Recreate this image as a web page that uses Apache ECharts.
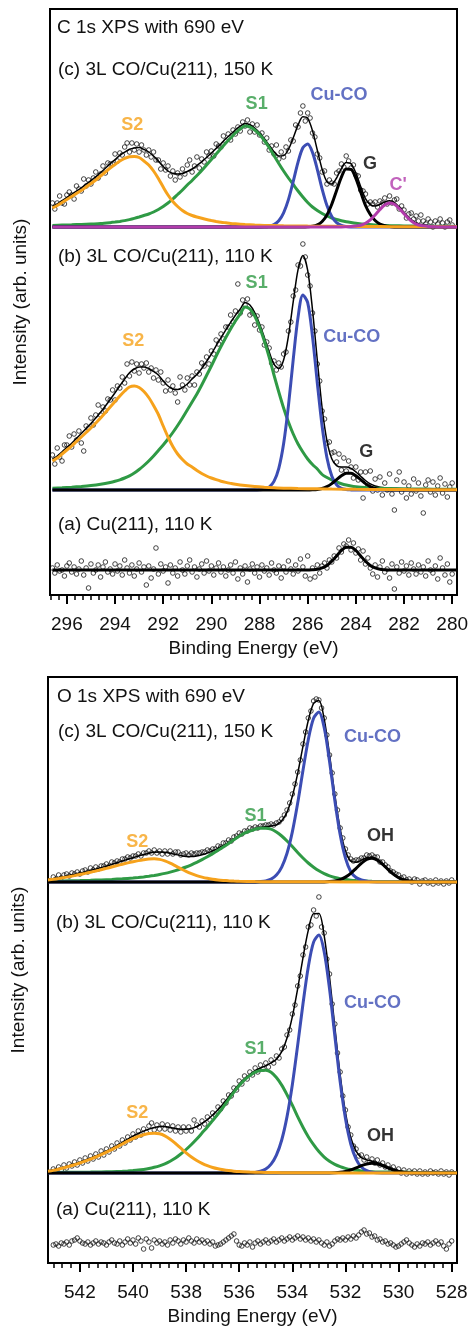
<!DOCTYPE html>
<html>
<head>
<meta charset="utf-8">
<title>C 1s / O 1s XPS, CO on Cu(211)</title>
<script src="https://cdn.jsdelivr.net/npm/echarts@6.0.0/dist/echarts.min.js"></script>
<style>
  html, body { margin: 0; padding: 0; background: #fff; }
  #chart { width: 472px; height: 1330px; }
</style>
</head>
<body>
<div id="chart"></div>
<script>
// ===================== C 1s panel =====================
var cTicks = [280, 282, 284, 286, 288, 290, 292, 294, 296];

// energies of the measured points (eV)
var cPointE = [
  296.6,296.5,296.4,296.3,296.2,296.1,296,295.9,295.8,295.7,
  295.6,295.5,295.4,295.3,295.2,295.1,295,294.9,294.8,294.7,
  294.6,294.5,294.4,294.3,294.2,294.1,294,293.9,293.8,293.7,
  293.6,293.5,293.4,293.3,293.2,293.1,293,292.9,292.8,292.7,
  292.6,292.5,292.4,292.3,292.2,292.1,292,291.9,291.8,291.7,
  291.6,291.5,291.4,291.3,291.2,291.1,291,290.9,290.8,290.7,
  290.6,290.5,290.4,290.3,290.2,290.1,290,289.9,289.8,289.7,
  289.6,289.5,289.4,289.3,289.2,289.1,289,288.9,288.8,288.7,
  288.6,288.5,288.4,288.3,288.2,288.1,288,287.9,287.8,287.7,
  287.6,287.5,287.4,287.3,287.2,287.1,287,286.9,286.8,286.7,
  286.6,286.5,286.4,286.3,286.2,286.1,286,285.9,285.8,285.7,
  285.6,285.5,285.4,285.3,285.2,285.1,285,284.9,284.8,284.7,
  284.6,284.5,284.4,284.3,284.2,284.1,284,283.9,283.8,283.7,
  283.6,283.5,283.4,283.3,283.2,283.1,283,282.9,282.8,282.7,
  282.6,282.5,282.4,282.3,282.2,282.1,282,281.9,281.8,281.7,
  281.6,281.5,281.4,281.3,281.2,281.1,281,280.9,280.8,280.7,
  280.6,280.5,280.4,280.3,280.2,280.1,280
];
// (c) 3L CO, 150 K
var cPoints150 = [
  24,18,24,31,24,23,32,35,32,28,
  41,38,36,48,41,47,43,49,55,49,
  53,61,54,64,63,63,73,66,74,72,
  80,84,75,84,77,83,75,82,77,72,
  77,70,75,67,67,58,64,57,61,51,
  56,47,54,50,58,53,62,67,55,61,
  70,59,68,65,75,71,76,71,83,81,
  80,91,86,93,87,97,93,100,96,105,
  101,107,95,103,95,102,92,94,85,89,
  77,81,73,82,68,75,70,80,76,87,
  86,102,100,114,121,106,114,109,94,90,
  73,69,55,56,43,47,44,43,54,56,
  63,60,71,66,59,62,52,51,37,36,
  33,23,25,23,25,20,26,24,29,23,
  31,24,27,28,18,21,17,9,13,14,
  8,11,6,12,6,3,8,5,0,6,
  3,8,4,0,5,7,2
];
// (b) 3L CO, 110 K
var cPoints110 = [
  35,26,42,33,29,45,45,54,43,56,
  50,59,47,39,64,62,72,65,75,85,
  75,83,79,91,90,100,90,104,102,113,
  107,126,114,128,119,126,117,126,122,127,
  118,122,112,120,110,118,107,99,110,100,
  104,97,88,113,105,100,112,105,114,105,
  118,116,127,124,133,126,139,136,150,146,
  156,151,163,163,175,168,179,206,177,190,
  185,191,175,177,165,174,160,163,145,148,
  142,127,129,120,127,123,136,138,159,168,
  194,200,225,224,246,233,215,204,177,159,
  126,109,79,71,47,48,37,38,28,36,
  20,32,19,29,23,12,23,10,18,-8,
  18,4,19,-1,11,0,13,-5,7,0,
  16,-4,-20,10,18,-2,8,-8,4,-4,
  11,-1,7,-6,-23,5,10,-2,8,-5,
  4,12,-3,6,-7,3,7
];
// (a) clean Cu(211), 110 K
var cPointsClean = [
  2,-3,5,-1,0,-6,4,7,-2,3,
  -4,1,9,-5,2,-18,6,-3,0,5,
  -7,3,8,-2,1,-4,6,-1,4,-5,
  10,2,-3,5,-6,1,7,-2,3,-15,
  4,-8,1,22,-4,6,-1,3,-13,5,
  -3,2,-6,8,0,-4,4,10,-2,3,
  -7,1,6,-3,9,-1,4,-5,2,7,
  -2,3,-6,0,5,-3,8,-9,2,-4,
  4,-12,1,6,-3,3,-7,5,-1,2,
  -5,7,0,-3,4,-8,3,-2,9,1,
  -4,5,-1,11,3,-6,14,-9,2,-7,
  5,-3,4,7,2,10,8,14,12,22,
  18,26,24,30,20,27,17,21,10,19,
  6,12,2,-4,5,-7,3,9,-2,1,
  -8,6,-19,3,-3,8,-1,4,-5,7,
  1,-4,5,-2,3,-6,9,0,-3,4,
  -9,12,2,-5,6,-12,-4
];

// fit envelopes on a 0.2 eV grid
var cFitE = [
  296.6,296.4,296.2,296,295.8,295.6,295.4,295.2,295,294.8,
  294.6,294.4,294.2,294,293.8,293.6,293.4,293.2,293,292.8,
  292.6,292.4,292.2,292,291.8,291.6,291.4,291.2,291,290.8,
  290.6,290.4,290.2,290,289.8,289.6,289.4,289.2,289,288.8,
  288.6,288.4,288.2,288,287.8,287.6,287.4,287.2,287,286.8,
  286.6,286.4,286.2,286,285.8,285.6,285.4,285.2,285,284.8,
  284.6,284.4,284.2,284,283.8,283.6,283.4,283.2,283,282.8,
  282.6,282.4,282.2,282,281.8,281.6,281.4,281.2,281,280.8,
  280.6,280.4,280.2,280,279.8
];
var cEnv150 = [
  20.6,23.2,26.4,29.5,32.7,35.9,39.1,42.8,46.5,50.2,
  54.4,58.8,63.3,67.4,71.6,74.9,77.7,79.1,79.5,77.5,
  75,71,66,60.5,56,53.5,53,53.5,55.5,58,
  61.5,65.2,69.5,74,78.6,83.3,88.2,92.6,97.2,100.8,
  103.5,102.2,99,94.3,88.3,81.8,75.3,71,71.4,77.5,
  89.2,101.9,110.2,108.6,96.2,76.8,57.7,45.2,42.9,49,
  58.3,64.6,63.2,54,40.4,28.4,22.4,21,22.6,25.1,
  26.2,24.4,20,14.6,9.4,5.6,3.1,2.3,1.6,1.3,
  1,0.9,0.9,0.8,0.8
];
var cEnv110 = [
  30.8,34,38.2,42.5,46.8,51.6,56.5,61.4,66.4,72,
  77.7,84,90.5,97.2,104.2,111,117.2,121,123,123,
  121.5,118.5,115,109,104,101,100.5,102.5,106,111,
  115.5,121.5,128.5,136,144.3,152.3,160.1,167.6,174.7,181,
  187.4,184.9,177.4,166.2,152.5,138.3,125.8,121.6,130,153.9,
  188.3,220.4,234.4,219.7,180.2,129.8,81.9,49.2,31.3,24.4,
  23,23,21.6,18.2,13.8,9.5,6.1,4,2.8,2.2,
  1.9,1.75,1.6,1.5,1.4,1.35,1.3,1.25,1.2,1.15,
  1.1,1.05,1,0.95,0.9
];

// fit components [eV, intensity]
var cS2_150 = [[296.6,19],[296.4,21.5],[296.2,24.5],[296,27.5],[295.8,30.5],[295.6,33.5],[295.4,36.5],[295.2,40],[295,43.5],[294.8,47],[294.6,51],[294.4,55],[294.2,59],[294,62.5],[293.8,66],[293.6,68.5],[293.4,70.3],[293.2,70.5],[293,69.5],[292.8,66],[292.6,62],[292.4,56],[292.2,48.5],[292,40],[291.8,32],[291.6,25.5],[291.4,20.5],[291.2,16.5],[291,13.5],[290.8,11.5],[290.6,10],[290.4,8.7],[290.2,7.5],[290,6.5],[289.8,5.6],[289.6,4.8],[289.4,4.2],[289.2,3.6],[289,3.2],[288.6,2.5],[288.2,2],[287.8,1.6],[287.4,1.4],[287,1.2],[286,0.9],[285,0.7],[284,0.5],[283,0.4],[282,0.3],[281,0.2],[279.8,0.2]];
var cS1_150 = [[296.6,1.6],[296.2,1.9],[295.8,2.2],[295.4,2.6],[295,3],[294.6,3.4],[294.2,4.3],[294,4.9],[293.8,5.6],[293.6,6.4],[293.4,7.4],[293.2,8.6],[293,10],[292.8,11.5],[292.6,13],[292.4,15],[292.2,17.5],[292,20.5],[291.8,24],[291.6,28],[291.4,32.5],[291.2,37],[291,42],[290.8,46.5],[290.6,51.5],[290.4,56.5],[290.2,62],[290,67.5],[289.8,73],[289.6,78.5],[289.4,84],[289.2,89],[289,94],[288.8,98],[288.6,101],[288.4,100],[288.2,97],[288,92.5],[287.8,86.5],[287.6,79.5],[287.4,71.5],[287.2,63.5],[287,56],[286.8,49],[286.6,42.5],[286.4,36],[286.2,30],[286,24.5],[285.8,20],[285.6,16.5],[285.4,13.5],[285.2,11],[285,9],[284.8,7.5],[284.6,6.3],[284.4,5.3],[284.2,4.5],[284,3.8],[283.6,2.7],[283.2,2],[282.8,1.5],[282.4,1.3],[282,1.1],[281.4,0.9],[280.8,0.8],[280.2,0.7],[279.8,0.6]];
var cCuCO_150 = [[296.6,0],[288.2,0],[287.8,0.2],[287.6,0.8],[287.4,2.4],[287.2,6.2],[287,14.2],[286.8,27.4],[286.6,45.6],[286.4,64.9],[286.2,79.2],[286,83],[285.8,74.6],[285.6,57.4],[285.4,37.9],[285.2,21.4],[285,10.4],[284.8,4.3],[284.6,1.5],[284.4,0.5],[284.2,0.1],[283.8,0],[279.8,0]];
var cG_150 = [[296.6,0],[286.2,0],[286,0.2],[285.8,0.7],[285.6,2.1],[285.4,5.5],[285.2,12.1],[285,22.8],[284.8,36.5],[284.6,49.9],[284.4,58],[284.2,57.6],[284,48.7],[283.8,35],[283.6,21.5],[283.4,12.5],[283.2,6.5],[283,3],[282.8,1.2],[282.6,0.4],[282.4,0.1],[282.2,0],[279.8,0]];
var cCp_150 = [[296.6,0],[284.6,0],[284.4,0.2],[284.2,0.5],[284,1],[283.8,1.7],[283.6,3.7],[283.4,7.2],[283.2,12.1],[283,17.5],[282.8,22],[282.6,24],[282.4,22.7],[282.2,18.5],[282,13.2],[281.8,8.1],[281.6,4.3],[281.4,2],[281.2,1.2],[281,0.6],[280.8,0.3],[280.6,0.1],[280.4,0],[279.8,0]];

var cS2_110 = [[296.6,29],[296.4,32],[296.2,36],[296,40],[295.8,44],[295.6,48.5],[295.4,53],[295.2,57.5],[295,62],[294.8,67],[294.6,72],[294.4,77.5],[294.2,83],[294,88.5],[293.8,94],[293.6,99],[293.4,103],[293.2,104],[293,102.5],[292.8,98.5],[292.6,92.5],[292.4,84.5],[292.2,75.5],[292,64],[291.8,53],[291.6,43.5],[291.4,36],[291.2,30.5],[291,26],[290.8,23],[290.6,19.5],[290.4,16.5],[290.2,14],[290,12],[289.8,10.3],[289.6,8.8],[289.4,7.6],[289.2,6.6],[289,5.7],[288.6,4.4],[288.2,3.4],[287.8,2.7],[287.4,2.2],[287,1.8],[286.4,1.5],[285.6,1.2],[285,1],[284,0.7],[283,0.5],[282,0.4],[281,0.3],[279.8,0.2]];
var cS1_110 = [[296.6,1.8],[296.2,2.2],[295.8,2.8],[295.4,3.5],[295,4.4],[294.6,5.7],[294.2,7.5],[294,8.7],[293.8,10.2],[293.6,12],[293.4,14.2],[293.2,17],[293,20.5],[292.8,24.5],[292.6,29],[292.4,34],[292.2,39.5],[292,45],[291.8,51],[291.6,57.5],[291.4,64.5],[291.2,72],[291,80],[290.8,88],[290.6,96],[290.4,105],[290.2,114.5],[290,124],[289.8,134],[289.6,143.5],[289.4,152.5],[289.2,161],[289,169],[288.8,176],[288.6,183],[288.4,181],[288.2,174],[288,163],[287.8,149],[287.6,133],[287.4,115],[287.2,98],[287,82],[286.8,68],[286.6,56],[286.4,46],[286.2,38],[286,31],[285.8,25.5],[285.6,21],[285.4,15.5],[285.2,12.5],[285,10],[284.8,8],[284.6,6.3],[284.4,5],[284.2,4],[284,3.3],[283.6,2.4],[283.2,1.9],[282.8,1.5],[282.4,1.3],[282,1.1],[281.4,0.95],[280.8,0.85],[280.2,0.75],[279.8,0.7]];
var cCuCO_110 = [[296.6,0],[288.2,0],[288,0.2],[287.8,0.8],[287.6,2.9],[287.4,8.6],[287.2,21.6],[287,46.2],[286.8,84.2],[286.6,130.7],[286.4,172.9],[286.2,195],[286,187.4],[285.8,153.4],[285.6,107],[285.4,63.7],[285.2,32.2],[285,13.9],[284.8,5.1],[284.6,1.6],[284.4,0.4],[284.2,0.1],[284,0],[279.8,0]];
var cG_110 = [[296.6,0],[286,0],[285.8,0.2],[285.6,0.6],[285.4,1.5],[285.2,3.4],[285,6.4],[284.8,10.3],[284.6,14.2],[284.4,16.7],[284.2,16.7],[284,14.2],[283.8,10.3],[283.6,6.4],[283.4,3.4],[283.2,1.5],[283,0.6],[282.8,0.2],[282.6,0],[279.8,0]];

var cFitClean = [[296.6,0],[286,0],[285.8,0.3],[285.6,0.8],[285.4,2.1],[285.2,4.6],[285,8.7],[284.8,14.1],[284.6,19.5],[284.4,22.8],[284.2,22.8],[284,19.5],[283.8,14.1],[283.6,8.7],[283.4,4.6],[283.2,2.1],[283,0.8],[282.8,0.3],[282.6,0],[279.8,0]];

// ===================== O 1s panel =====================
var oTicks = [528, 530, 532, 534, 536, 538, 540, 542];

var oPointE = [
  543,542.9,542.8,542.7,542.6,542.5,542.4,542.3,542.2,542.1,
  542,541.9,541.8,541.7,541.6,541.5,541.4,541.3,541.2,541.1,
  541,540.9,540.8,540.7,540.6,540.5,540.4,540.3,540.2,540.1,
  540,539.9,539.8,539.7,539.6,539.5,539.4,539.3,539.2,539.1,
  539,538.9,538.8,538.7,538.6,538.5,538.4,538.3,538.2,538.1,
  538,537.9,537.8,537.7,537.6,537.5,537.4,537.3,537.2,537.1,
  537,536.9,536.8,536.7,536.6,536.5,536.4,536.3,536.2,536.1,
  536,535.9,535.8,535.7,535.6,535.5,535.4,535.3,535.2,535.1,
  535,534.9,534.8,534.7,534.6,534.5,534.4,534.3,534.2,534.1,
  534,533.9,533.8,533.7,533.6,533.5,533.4,533.3,533.2,533.1,
  533,532.9,532.8,532.7,532.6,532.5,532.4,532.3,532.2,532.1,
  532,531.9,531.8,531.7,531.6,531.5,531.4,531.3,531.2,531.1,
  531,530.9,530.8,530.7,530.6,530.5,530.4,530.3,530.2,530.1,
  530,529.9,529.8,529.7,529.6,529.5,529.4,529.3,529.2,529.1,
  529,528.9,528.8,528.7,528.6,528.5,528.4,528.3,528.2,528.1,
  528
];
var oPoints150 = [
  5,3,7,4,7,8,6,9,8,10,
  8,11,12,10,14,12,15,13,16,16,
  18,16,20,19,21,20,23,23,25,24,
  26,26,28,26,29,29,31,29,32,29,
  31,28,31,28,31,28,30,30,27,28,
  29,27,29,28,29,29,30,30,32,31,
  33,33,36,35,39,39,42,41,45,46,
  49,48,51,51,54,53,55,54,56,56,
  57,57,58,57,59,60,63,67,72,79,
  88,98,110,122,138,150,164,171,181,183,
  182,174,164,147,127,109,88,72,54,44,
  33,27,23,21,22,22,24,24,27,26,
  27,25,25,20,20,17,15,11,10,8,
  7,4,5,2,3,0,3,2,-2,1,
  2,-1,1,-2,2,-1,1,-2,1,-1,
  2
];
var oPoints110 = [
  4,2,6,3,8,5,9,7,11,8,
  13,10,15,12,17,14,19,16,22,18,
  24,21,27,24,30,27,33,30,36,33,
  39,36,42,38,44,41,47,50,43,48,
  44,49,44,48,43,47,42,46,41,46,
  42,46,42,53,48,46,52,49,56,53,
  60,58,66,64,72,70,78,77,85,83,
  92,89,97,94,101,98,105,101,108,104,
  110,106,113,110,117,115,124,126,138,143,
  159,168,187,197,218,226,246,248,263,257,
  276,246,240,214,199,169,149,120,101,77,
  63,46,38,27,24,17,18,13,16,11,
  14,10,13,8,10,6,8,4,6,2,
  4,0,3,-1,2,0,2,-1,2,-1,
  1,-1,2,0,1,-1,2,-1,1,-2,
  1
];
var oPointsClean = [
  -2,-1,-3,0,-1,1,-2,2,3,5,
  2,0,-1,1,-2,0,2,-1,1,0,
  -2,1,3,0,-1,2,-2,1,4,0,
  3,-1,5,2,-6,4,1,-5,3,0,
  2,-1,1,-2,3,0,4,2,-1,3,
  1,5,2,0,4,1,3,0,2,-1,
  1,-3,-2,-1,1,3,5,7,9,2,
  -2,-3,0,-2,1,-4,0,2,-1,1,
  3,0,2,4,1,3,5,2,4,6,
  3,5,7,4,6,3,5,2,4,1,
  3,0,-2,1,-3,-1,2,4,3,5,
  3,6,4,7,5,8,11,13,9,10,
  6,7,3,4,1,2,-1,0,-2,-4,
  -3,-1,1,3,0,-2,-4,-1,-3,0,
  -1,1,-2,0,2,-1,1,-3,-6,-1,
  2
];

var oFitE = [
  543.2,543,542.8,542.6,542.4,542.2,542,541.8,541.6,541.4,
  541.2,541,540.8,540.6,540.4,540.2,540,539.8,539.6,539.4,
  539.2,539,538.8,538.6,538.4,538.2,538,537.8,537.6,537.4,
  537.2,537,536.8,536.6,536.4,536.2,536,535.8,535.6,535.4,
  535.2,535,534.8,534.6,534.4,534.2,534,533.8,533.6,533.4,
  533.2,533,532.8,532.6,532.4,532.2,532,531.8,531.6,531.4,
  531.2,531,530.8,530.6,530.4,530.2,530,529.8,529.6,529.4,
  529.2,529,528.8,528.6,528.4,528.2,528,527.8
];
var oEnv150 = [
  2.8,3.6,4.5,5.5,6.6,7.7,8.9,10.1,11.5,12.9,
  14.4,15.9,17.6,19.3,21,22.7,24.3,25.9,27.4,28.8,
  29.8,30.1,29.7,28.7,27.5,26.4,25.6,25.5,26,27.2,
  28.9,31.2,33.7,36.5,39.7,43.2,46.5,49.4,51.5,53.4,
  54.5,55.2,56,57.2,61.2,69.9,85.8,108.4,135.7,161.5,
  178.7,181.4,162.8,127.4,87.1,53.2,31.2,20.9,19.7,21.9,
  24.3,24.8,22.6,18.2,13.1,8.3,4.7,2.5,1.25,0.6,
  0.4,0.3,0.25,0.2,0.2,0.2,0.2,0.2
];
var oEnv110 = [
  2.2,3.2,4.4,5.9,7.4,9.1,10.8,12.7,14.7,17,
  19.4,22,24.7,27.7,30.7,33.8,36.8,39.5,41.9,43.9,
  45.4,46.4,46.4,45.6,44.5,43.8,43.7,44.5,46.5,49.6,
  53.3,58,63.2,69.2,75.9,82.6,88.9,94.5,98.6,102.3,
  105,107.3,110.1,113.7,121.3,135,156.4,184.2,215.1,242.6,
  259.4,259.6,237.2,196.2,146.1,98.5,60.8,35.5,21.8,15.4,
  13.1,11.8,10.4,8.4,6,3.8,2.35,1.4,0.95,0.7,
  0.55,0.5,0.5,0.45,0.4,0.4,0.4,0.4
];

var oS2_150 = [[543.2,2],[543,2.7],[542.8,3.5],[542.6,4.4],[542.4,5.4],[542.2,6.4],[542,7.5],[541.8,8.6],[541.6,9.8],[541.4,11],[541.2,12.3],[541,13.6],[540.8,15],[540.6,16.4],[540.4,17.8],[540.2,19.1],[540,20.3],[539.8,21.4],[539.6,22.3],[539.4,23],[539.2,23.2],[539,22.6],[538.8,21.1],[538.6,18.8],[538.4,16.1],[538.2,13.3],[538,10.6],[537.8,8.3],[537.6,6.4],[537.4,4.9],[537.2,3.7],[537,2.8],[536.8,2.1],[536.6,1.6],[536.4,1.2],[536.2,0.9],[536,0.7],[535.4,0.45],[534.8,0.3],[534,0.2],[532,0.1],[530,0.05],[527.8,0]];
var oS1_150 = [[543.2,0.8],[542.8,1],[542.4,1.2],[542,1.4],[541.6,1.7],[541.2,2.1],[540.8,2.6],[540.4,3.2],[540,4],[539.8,4.5],[539.6,5.1],[539.4,5.8],[539.2,6.6],[539,7.5],[538.8,8.6],[538.6,9.9],[538.4,11.4],[538.2,13.1],[538,15],[537.8,17.2],[537.6,19.6],[537.4,22.3],[537.2,25.2],[537,28.4],[536.8,31.6],[536.6,34.9],[536.4,38.5],[536.2,42.3],[536,45.8],[535.8,48.8],[535.6,51],[535.4,52.8],[535.2,53.7],[535,53.8],[534.8,52.8],[534.6,50],[534.4,46],[534.2,41],[534,35.5],[533.8,29.5],[533.6,24],[533.4,19],[533.2,14.8],[533,11.2],[532.8,8.3],[532.6,6.1],[532.4,4.5],[532.2,3.3],[532,2.4],[531.8,1.8],[531.6,1.4],[531.4,1.1],[531.2,0.9],[531,0.7],[530.6,0.5],[530,0.4],[529,0.25],[527.8,0.2]];
var oCuCO_150 = [[543.2,0],[535.8,0],[535.6,0.05],[535.4,0.1],[535.2,0.4],[535,1.1],[534.8,2.9],[534.6,6.9],[534.4,14.9],[534.2,28.7],[534,50.1],[533.8,78.7],[533.6,111.5],[533.4,142.3],[533.2,163.7],[533,170],[532.8,154.2],[532.6,120.7],[532.4,81.5],[532.2,47.4],[532,23.8],[531.8,10.3],[531.6,4.5],[531.4,2],[531.2,0.8],[531,0.3],[530.8,0.1],[530.6,0],[527.8,0]];
var oOH_150 = [[543.2,0],[533,0],[532.8,0.1],[532.6,0.4],[532.4,1],[532.2,2.4],[532,4.9],[531.8,8.7],[531.6,13.7],[531.4,18.7],[531.2,22.5],[531,23.7],[530.8,21.9],[530.6,17.7],[530.4,12.6],[530.2,7.9],[530,4.3],[529.8,2.1],[529.6,0.9],[529.4,0.3],[529.2,0.1],[529,0],[527.8,0]];

var oS2_110 = [[543.2,1.7],[543,2.6],[542.8,3.8],[542.6,5.2],[542.4,6.7],[542.2,8.3],[542,10],[541.8,11.8],[541.6,13.8],[541.4,16],[541.2,18.3],[541,20.8],[540.8,23.4],[540.6,26.2],[540.4,29],[540.2,31.8],[540,34.4],[539.8,36.6],[539.6,38.3],[539.4,39.4],[539.2,39.7],[539,39.2],[538.8,37.2],[538.6,33.8],[538.4,29.5],[538.2,24.8],[538,20.2],[537.8,16],[537.6,12.5],[537.4,9.6],[537.2,7.3],[537,5.5],[536.8,4.2],[536.6,3.2],[536.4,2.4],[536.2,1.8],[536,1.4],[535.6,1],[535.2,0.7],[534.8,0.45],[534.4,0.35],[534,0.3],[533.4,0.2],[532.6,0.15],[532,0.1],[527.8,0]];
var oS1_110 = [[543.2,0.5],[542.8,0.6],[542.4,0.7],[542,0.8],[541.6,0.9],[541.2,1.1],[540.8,1.3],[540.4,1.7],[540.2,2],[540,2.4],[539.8,2.9],[539.6,3.6],[539.4,4.5],[539.2,5.7],[539,7.2],[538.8,9.2],[538.6,11.8],[538.4,15],[538.2,19],[538,23.5],[537.8,28.5],[537.6,34],[537.4,40],[537.2,46],[537,52.5],[536.8,59],[536.6,66],[536.4,73.5],[536.2,80.8],[536,87.5],[535.8,93.2],[535.6,97.4],[535.4,100.8],[535.2,102.6],[535,102.8],[534.8,100.8],[534.6,95.5],[534.4,87.9],[534.2,78.3],[534,67.8],[533.8,56.3],[533.6,45.8],[533.4,36.3],[533.2,28.3],[533,21.4],[532.8,15.9],[532.6,11.7],[532.4,8.6],[532.2,6.3],[532,4.6],[531.8,3.4],[531.6,2.7],[531.4,2.1],[531.2,1.7],[531,1.3],[530.6,1],[530.2,0.8],[529.6,0.65],[529,0.5],[527.8,0.4]];
var oCuCO_110 = [[543.2,0],[536,0],[535.8,0.1],[535.6,0.2],[535.4,0.6],[535.2,1.7],[535,4],[534.8,8.8],[534.6,17.8],[534.4,33],[534.2,56.4],[534,88.3],[533.8,127.6],[533.6,169],[533.4,206.1],[533.2,230.9],[533,238],[532.8,221.1],[532.6,184.2],[532.4,137.1],[532.2,91.4],[532,54.5],[531.8,29],[531.6,13.9],[531.4,5.9],[531.2,2.3],[531,0.8],[530.8,0.3],[530.6,0.1],[530.4,0],[527.8,0]];
var oOH_110 = [[543.2,0],[533,0],[532.8,0.05],[532.6,0.1],[532.4,0.3],[532.2,0.7],[532,1.6],[531.8,3],[531.6,5.1],[531.4,7.3],[531.2,9],[531,9.7],[530.8,9],[530.6,7.3],[530.4,5.1],[530.2,3],[530,1.6],[529.8,0.7],[529.6,0.3],[529.4,0.1],[529.2,0],[527.8,0]];

// ===================== texts =====================
var cTitles = ['C 1s XPS with 690 eV', '(c) 3L CO/Cu(211), 150 K', '(b) 3L CO/Cu(211), 110 K', '(a) Cu(211), 110 K'];
var oTitles = ['O 1s XPS with 690 eV', '(c) 3L CO/Cu(211), 150 K', '(b) 3L CO/Cu(211), 110 K', '(a) Cu(211), 110 K'];
// peak tags: [text, eV, intensity (panel units), colour key]
var cTags = [['S2', 293.28, 470, 's2'], ['S1', 288.12, 491, 's1'], ['Cu-CO', 284.7, 500, 'cu'], ['G', 283.41, 431, 'k'], ["C'", 282.24, 410, 'cp'],
             ['S1', 288.12, 312, 's1'], ['S2', 293.24, 254, 's2'], ['Cu-CO', 284.17, 258, 'cu'], ['G', 283.57, 143, 'k']];
var oTags = [['Cu-CO', 530.98, 526, 'cu'], ['S1', 535.39, 447, 's1'], ['S2', 539.84, 421, 's2'], ['OH', 530.68, 427, 'k'],
             ['Cu-CO', 530.98, 260, 'cu'], ['S1', 535.39, 214, 's1'], ['S2', 539.84, 150, 's2'], ['OH', 530.68, 127, 'k']];

// baselines of the stacked spectra, in panel units above the frame bottom
var C_BASE = { c: 368, b: 105, a: 25 };
var O_BASE = { c: 381, b: 90, a: 20 };

var COLORS = { s2: '#f6a21c', s1: '#2f9a45', cu: '#3c4db4', cp: '#b23bab', k: '#000000' };
var FONT = '"Liberation Sans", Arial, Helvetica, sans-serif';

function zip(xs, ys, off) {
    return xs.map(function(x, i) { return [x, ys[i] + off]; });
}
function shift(pairs, off) {
    return pairs.map(function(p) { return [p[0], p[1] + off]; });
}
function minorTicks(lo, hi) {
    var out = [];
    for (var i = 1; lo + i / 3 <= hi + 1e-9; i++) {
        if (i % 6) out.push(+(lo + i / 3).toFixed(4));
    }
    return out;
}

function points(xi, yi, xs, ys, off) {
    return {
        type: 'scatter', xAxisIndex: xi, yAxisIndex: yi, silent: true,
        data: zip(xs, ys, off),
        symbol: 'circle', symbolSize: 4.6,
        itemStyle: { color: 'rgba(255,255,255,0)', borderColor: '#000', borderWidth: 0.9 }
    };
}
function curve(xi, yi, data, color, width) {
    return {
        type: 'line', xAxisIndex: xi, yAxisIndex: yi, silent: true,
        data: data, showSymbol: false, smooth: 0.3,
        lineStyle: { color: color, width: width }
    };
}
function tags(xi, yi, list) {
    return {
        type: 'scatter', xAxisIndex: xi, yAxisIndex: yi, silent: true, symbolSize: 0, z: 10,
        data: list.map(function(t) {
            return { name: t[0], value: [t[1], t[2]], label: { color: COLORS[t[3]] } };
        }),
        label: { show: true, position: 'inside', formatter: '{b}', fontSize: 18, fontWeight: 'bold', fontFamily: FONT }
    };
}
function mainAxis(gi, min, max, ticks) {
    return {
        type: 'value', gridIndex: gi, min: min, max: max, inverse: true, position: 'bottom',
        name: 'Binding Energy (eV)', nameLocation: 'middle', nameGap: 44,
        nameTextStyle: { fontSize: 19, color: '#111', fontFamily: FONT },
        axisLine: { show: true, lineStyle: { color: '#000', width: 2 } },
        axisTick: { show: true, customValues: ticks, length: 9, lineStyle: { color: '#000', width: 2 } },
        axisLabel: { show: true, customValues: ticks, margin: 20, fontSize: 19, color: '#111', fontFamily: FONT },
        splitLine: { show: false }
    };
}
function minorAxis(gi, min, max, ticks) {
    return {
        type: 'value', gridIndex: gi, min: min, max: max, inverse: true, position: 'bottom',
        axisLine: { show: false },
        axisTick: { show: true, customValues: ticks, length: 5, lineStyle: { color: '#000', width: 1.5 } },
        axisLabel: { show: false },
        splitLine: { show: false }
    };
}
function yAxis(gi) {
    return {
        type: 'value', gridIndex: gi, min: 0, max: 586,
        name: 'Intensity (arb. units)', nameLocation: 'middle', nameGap: 20,
        nameTextStyle: { fontSize: 19, color: '#111', fontFamily: FONT },
        axisLine: { show: false }, axisTick: { show: false }, axisLabel: { show: false },
        splitLine: { show: false }
    };
}
function titleText(text, x, y) {
    return {
        type: 'text', x: x, y: y, silent: true, z: 20,
        style: { text: text, font: '19px ' + FONT, fill: '#111', verticalAlign: 'middle' }
    };
}

var series = [
    // C 1s, (c) 150 K
    points(0, 0, cPointE, cPoints150, C_BASE.c),
    curve(0, 0, zip(cFitE, cEnv150, C_BASE.c), COLORS.k, 1.5),
    curve(0, 0, shift(cS1_150, C_BASE.c), COLORS.s1, 3),
    curve(0, 0, shift(cCuCO_150, C_BASE.c), COLORS.cu, 3),
    curve(0, 0, shift(cG_150, C_BASE.c), COLORS.k, 3),
    curve(0, 0, shift(cS2_150, C_BASE.c), COLORS.s2, 3),
    curve(0, 0, shift(cCp_150, C_BASE.c), COLORS.cp, 3),
    // C 1s, (b) 110 K
    points(0, 0, cPointE, cPoints110, C_BASE.b),
    curve(0, 0, zip(cFitE, cEnv110, C_BASE.b), COLORS.k, 1.5),
    curve(0, 0, shift(cS1_110, C_BASE.b), COLORS.s1, 3),
    curve(0, 0, shift(cCuCO_110, C_BASE.b), COLORS.cu, 3),
    curve(0, 0, shift(cG_110, C_BASE.b), COLORS.k, 3),
    curve(0, 0, shift(cS2_110, C_BASE.b), COLORS.s2, 3),
    // C 1s, (a) clean
    points(0, 0, cPointE, cPointsClean, C_BASE.a),
    curve(0, 0, shift(cFitClean, C_BASE.a), COLORS.k, 3),
    tags(0, 0, cTags),

    // O 1s, (c) 150 K
    points(2, 1, oPointE, oPoints150, O_BASE.c),
    curve(2, 1, zip(oFitE, oEnv150, O_BASE.c), COLORS.k, 1.5),
    curve(2, 1, shift(oS1_150, O_BASE.c), COLORS.s1, 3),
    curve(2, 1, shift(oCuCO_150, O_BASE.c), COLORS.cu, 3),
    curve(2, 1, shift(oOH_150, O_BASE.c), COLORS.k, 3),
    curve(2, 1, shift(oS2_150, O_BASE.c), COLORS.s2, 3),
    // O 1s, (b) 110 K
    points(2, 1, oPointE, oPoints110, O_BASE.b),
    curve(2, 1, zip(oFitE, oEnv110, O_BASE.b), COLORS.k, 1.5),
    curve(2, 1, shift(oS1_110, O_BASE.b), COLORS.s1, 3),
    curve(2, 1, shift(oCuCO_110, O_BASE.b), COLORS.cu, 3),
    curve(2, 1, shift(oOH_110, O_BASE.b), COLORS.k, 3),
    curve(2, 1, shift(oS2_110, O_BASE.b), COLORS.s2, 3),
    // O 1s, (a) clean
    points(2, 1, oPointE, oPointsClean, O_BASE.a),
    tags(2, 1, oTags)
];

var chart = echarts.init(document.getElementById('chart'), null, { renderer: 'canvas' });
chart.setOption({
    animation: false,
    backgroundColor: '#fff',
    textStyle: { fontFamily: FONT },
    grid: [
        { left: 50, top: 9, width: 407, height: 586, show: true, borderColor: '#000', borderWidth: 2, containLabel: false, outerBoundsMode: 'none' },
        { left: 48, top: 677, width: 409, height: 586, show: true, borderColor: '#000', borderWidth: 2, containLabel: false, outerBoundsMode: 'none' }
    ],
    xAxis: [
        mainAxis(0, 279.8, 296.7, cTicks),
        minorAxis(0, 279.8, 296.7, minorTicks(280, 296.7)),
        mainAxis(1, 527.8, 543.2, oTicks),
        minorAxis(1, 527.8, 543.2, minorTicks(528, 543.2))
    ],
    yAxis: [yAxis(0), yAxis(1)],
    graphic: [
        titleText(cTitles[0], 57, 28),
        titleText(cTitles[1], 58, 70),
        titleText(cTitles[2], 58, 257),
        titleText(cTitles[3], 58, 525),
        titleText(oTitles[0], 57, 697),
        titleText(oTitles[1], 58, 732),
        titleText(oTitles[2], 56, 923),
        titleText(oTitles[3], 56, 1210)
    ],
    series: series
});
</script>
</body>
</html>
